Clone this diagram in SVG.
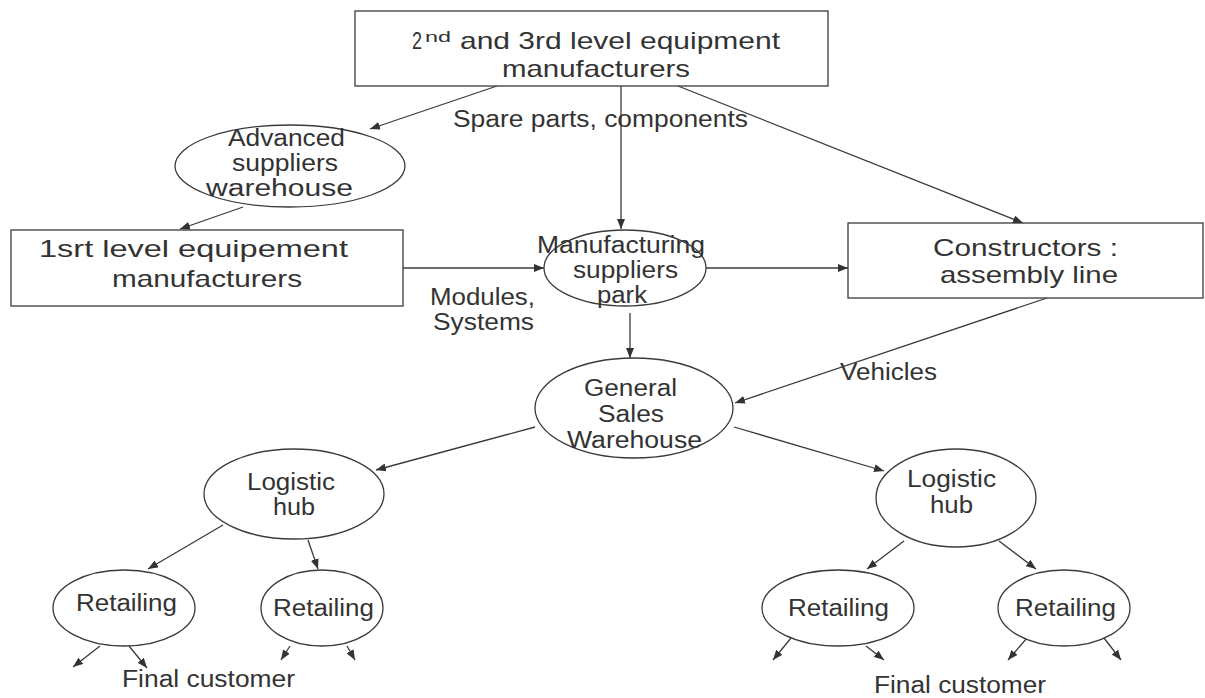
<svg xmlns="http://www.w3.org/2000/svg" width="1205" height="698" viewBox="0 0 1205 698">
<style>
.box{fill:#fff;stroke:#3a3a3a;stroke-width:1.3}
.t{font-family:"Liberation Sans",Arial,Helvetica,sans-serif;fill:#333;font-size:23px}
.big{font-size:24px}
.c{fill:none;stroke:#3a3a3a;stroke-width:1.3}
</style>
<defs>
<marker id="ah" viewBox="0 0 10 8" refX="10" refY="4" markerWidth="10" markerHeight="8" markerUnits="userSpaceOnUse" orient="auto">
<path d="M0,0 L10,4 L0,8 Z" fill="#333"/>
</marker>
</defs>
<rect width="1205" height="698" fill="#fff"/>
<g id="connectors">
<line class="c" x1="497" y1="86" x2="370" y2="129" marker-end="url(#ah)"/>
<line class="c" x1="621" y1="86" x2="621" y2="229" marker-end="url(#ah)"/>
<line class="c" x1="678" y1="86" x2="1023" y2="223" marker-end="url(#ah)"/>
<line class="c" x1="243" y1="207" x2="180" y2="229" marker-end="url(#ah)"/>
<line class="c" x1="403" y1="268" x2="544" y2="268" marker-end="url(#ah)"/>
<line class="c" x1="706" y1="268" x2="848" y2="268" marker-end="url(#ah)"/>
<line class="c" x1="630" y1="313" x2="630" y2="358" marker-end="url(#ah)"/>
<line class="c" x1="1047" y1="298" x2="735" y2="403" marker-end="url(#ah)"/>
<line class="c" x1="535" y1="427" x2="376" y2="470" marker-end="url(#ah)"/>
<line class="c" x1="734" y1="427" x2="884" y2="471" marker-end="url(#ah)"/>
<line class="c" x1="223" y1="525" x2="148" y2="569" marker-end="url(#ah)"/>
<line class="c" x1="308" y1="540" x2="318" y2="569" marker-end="url(#ah)"/>
<line class="c" x1="904" y1="541" x2="867" y2="569" marker-end="url(#ah)"/>
<line class="c" x1="999" y1="541" x2="1036" y2="569" marker-end="url(#ah)"/>
<line class="c" x1="100" y1="646" x2="73" y2="667" marker-end="url(#ah)"/>
<line class="c" x1="129" y1="646" x2="147" y2="668" marker-end="url(#ah)"/>
<line class="c" x1="290" y1="646" x2="281" y2="660" marker-end="url(#ah)"/>
<line class="c" x1="347" y1="646" x2="355" y2="660" marker-end="url(#ah)"/>
<line class="c" x1="791" y1="638" x2="773" y2="660" marker-end="url(#ah)"/>
<line class="c" x1="866" y1="646" x2="884" y2="660" marker-end="url(#ah)"/>
<line class="c" x1="1027" y1="638" x2="1008" y2="660" marker-end="url(#ah)"/>
<line class="c" x1="1104" y1="638" x2="1121" y2="660" marker-end="url(#ah)"/>
</g>
<g id="labels">
<text class="t" x="453" y="127" font-size="24" textLength="295" lengthAdjust="spacingAndGlyphs">Spare parts, components</text>
<text class="t" x="430" y="305" textLength="105" lengthAdjust="spacingAndGlyphs">Modules,</text>
<text class="t" x="433" y="330" textLength="101" lengthAdjust="spacingAndGlyphs">Systems</text>
<text class="t" x="840" y="380" textLength="97" lengthAdjust="spacingAndGlyphs">Vehicles</text>
<text class="t" x="122" y="687" textLength="173" lengthAdjust="spacingAndGlyphs">Final customer</text>
<text class="t" x="874" y="693" textLength="172" lengthAdjust="spacingAndGlyphs">Final customer</text>
</g>
<g id="n_top">
<rect class="box" x="355" y="11" width="473" height="75"/>
<text class="t big" y="49"><tspan x="412" textLength="10" lengthAdjust="spacingAndGlyphs">2</tspan><tspan x="425" y="42" font-size="15" textLength="26" lengthAdjust="spacingAndGlyphs">nd</tspan><tspan x="460" y="49" textLength="320" lengthAdjust="spacingAndGlyphs">and 3rd level equipment</tspan></text>
<text class="t big" x="502" y="77" textLength="188" lengthAdjust="spacingAndGlyphs">manufacturers</text>
</g>
<g id="n_advanced">
<ellipse class="box" cx="290" cy="166" rx="115" ry="41"/>
<text class="t" x="228" y="146" textLength="117" lengthAdjust="spacingAndGlyphs">Advanced</text>
<text class="t" x="232" y="171" textLength="106" lengthAdjust="spacingAndGlyphs">suppliers</text>
<text class="t" x="206" y="196" textLength="147" lengthAdjust="spacingAndGlyphs">warehouse</text>
</g>
<g id="n_first">
<rect class="box" x="11" y="230" width="392" height="76"/>
<text class="t big" x="39" y="257" textLength="309" lengthAdjust="spacingAndGlyphs">1srt level equipement</text>
<text class="t big" x="112" y="287" textLength="190" lengthAdjust="spacingAndGlyphs">manufacturers</text>
</g>
<g id="n_park">
<ellipse class="box" cx="625" cy="268" rx="81" ry="38"/>
<text class="t" x="537" y="253" textLength="168" lengthAdjust="spacingAndGlyphs">Manufacturing</text>
<text class="t" x="573" y="278" textLength="105" lengthAdjust="spacingAndGlyphs">suppliers</text>
<text class="t" x="597" y="303" textLength="50" lengthAdjust="spacingAndGlyphs">park</text>
</g>
<g id="n_constructors">
<rect class="box" x="848" y="223" width="355" height="75"/>
<text class="t big" x="933" y="256" textLength="185" lengthAdjust="spacingAndGlyphs">Constructors :</text>
<text class="t big" x="940" y="283" textLength="178" lengthAdjust="spacingAndGlyphs">assembly line</text>
</g>
<g id="n_general">
<ellipse class="box" cx="634" cy="408" rx="99" ry="50"/>
<text class="t" x="584" y="396" textLength="93" lengthAdjust="spacingAndGlyphs">General</text>
<text class="t" x="598" y="422" textLength="66" lengthAdjust="spacingAndGlyphs">Sales</text>
<text class="t" x="567" y="448" textLength="135" lengthAdjust="spacingAndGlyphs">Warehouse</text>
</g>
<g id="n_hub_left">
<ellipse class="box" cx="294" cy="494" rx="90" ry="45"/>
<text class="t" x="247" y="490" textLength="88" lengthAdjust="spacingAndGlyphs">Logistic</text>
<text class="t" x="273" y="515" textLength="42" lengthAdjust="spacingAndGlyphs">hub</text>
</g>
<g id="n_hub_right">
<ellipse class="box" cx="956" cy="498" rx="80" ry="49"/>
<text class="t" x="907" y="487" textLength="89" lengthAdjust="spacingAndGlyphs">Logistic</text>
<text class="t" x="930" y="513" textLength="43" lengthAdjust="spacingAndGlyphs">hub</text>
</g>
<g id="n_ret1">
<ellipse class="box" cx="124" cy="608" rx="71" ry="38"/>
<text class="t" x="76" y="611" textLength="101" lengthAdjust="spacingAndGlyphs">Retailing</text>
</g>
<g id="n_ret2">
<ellipse class="box" cx="322" cy="608" rx="61" ry="38"/>
<text class="t" x="273" y="616" textLength="101" lengthAdjust="spacingAndGlyphs">Retailing</text>
</g>
<g id="n_ret3">
<ellipse class="box" cx="838" cy="608" rx="76" ry="38"/>
<text class="t" x="788" y="616" textLength="101" lengthAdjust="spacingAndGlyphs">Retailing</text>
</g>
<g id="n_ret4">
<ellipse class="box" cx="1064" cy="608" rx="66" ry="38"/>
<text class="t" x="1015" y="616" textLength="101" lengthAdjust="spacingAndGlyphs">Retailing</text>
</g>
</svg>
